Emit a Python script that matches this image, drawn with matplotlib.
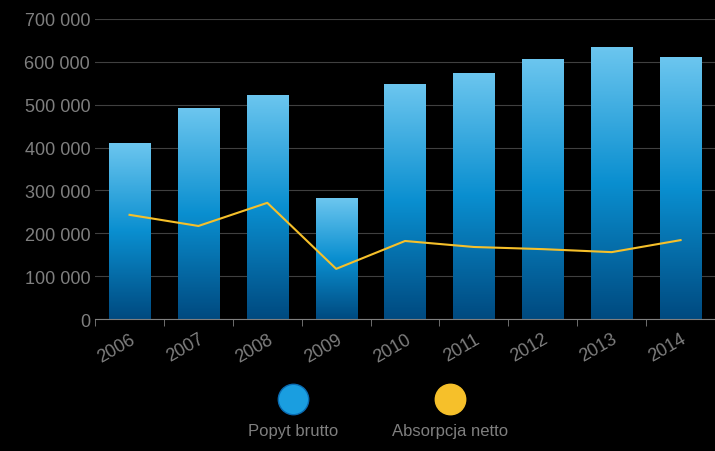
import numpy as np
import matplotlib
matplotlib.use("Agg")
import matplotlib.pyplot as plt
from matplotlib.colors import LinearSegmentedColormap
from matplotlib.ticker import FuncFormatter, FixedLocator

years = ["2006", "2007", "2008", "2009", "2010", "2011", "2012", "2013", "2014"]
popyt_brutto = [410000, 492000, 523000, 282000, 548000, 574000, 607000, 635000, 611000]
absorpcja_netto = [243000, 217000, 271000, 117000, 182000, 168000, 163000, 156000, 184000]

GRAY = "#7f7f7f"
plt.rcParams["font.family"] = ["Liberation Sans", "DejaVu Sans"]

fig = plt.figure(figsize=(7.15, 4.52), dpi=100, facecolor="black")
ax = fig.add_axes([0.133, 0.292, 0.867, 0.664], facecolor="black")

x = np.arange(len(years))
cmap = LinearSegmentedColormap.from_list("bar", ["#004a80", "#0a8fd0", "#6cc6ef"])
grad = np.linspace(0, 1, 256).reshape(-1, 1)
bars = ax.bar(x, popyt_brutto, width=0.6, color="none", zorder=2)
for b in bars:
    im = ax.imshow(grad, cmap=cmap, aspect="auto", origin="lower",
                   extent=[b.get_x(), b.get_x() + b.get_width(), 0, b.get_height()], zorder=2)
    im.set_clip_path(b)

ax.plot(x, absorpcja_netto, color="#f6c02a", linewidth=1.5, zorder=3)

ax.set_xlim(-0.5, len(years) - 0.5)
ax.set_ylim(0, 700000)
ax.set_yticks(range(0, 700001, 100000))
ax.yaxis.set_major_formatter(FuncFormatter(lambda v, p: f"{int(v):,}".replace(",", " ")))
ax.grid(axis="y", color="#404040", linewidth=0.8, zorder=0)
ax.set_axisbelow(True)
ax.set_xticks(x)
ax.set_xticklabels(years, rotation=30, ha="right", rotation_mode="anchor")
ax.xaxis.set_minor_locator(FixedLocator(np.arange(-0.5, len(years), 1)))
ax.tick_params(axis="x", which="major", length=0, colors=GRAY, labelsize=13, pad=8)
ax.tick_params(axis="x", which="minor", length=5, color=GRAY)
ax.tick_params(axis="y", length=0, colors=GRAY, labelsize=13)
for s in ["top", "right", "left"]:
    ax.spines[s].set_visible(False)
ax.spines["bottom"].set_color(GRAY)

# legenda
lax = fig.add_axes([0, 0, 1, 1], facecolor="none")
lax.set_xlim(0, 715)
lax.set_ylim(452, 0)
lax.axis("off")
lax.scatter([293], [400], s=480, color="#1a9ee0", edgecolors="#0a6ab0")
lax.scatter([450], [400], s=480, color="#f6c02a")
lax.text(293, 432, "Popyt brutto", color=GRAY, fontsize=12, ha="center", va="center")
lax.text(450, 432, "Absorpcja netto", color=GRAY, fontsize=12, ha="center", va="center")

fig.savefig("out.png", dpi=100, facecolor="black")
